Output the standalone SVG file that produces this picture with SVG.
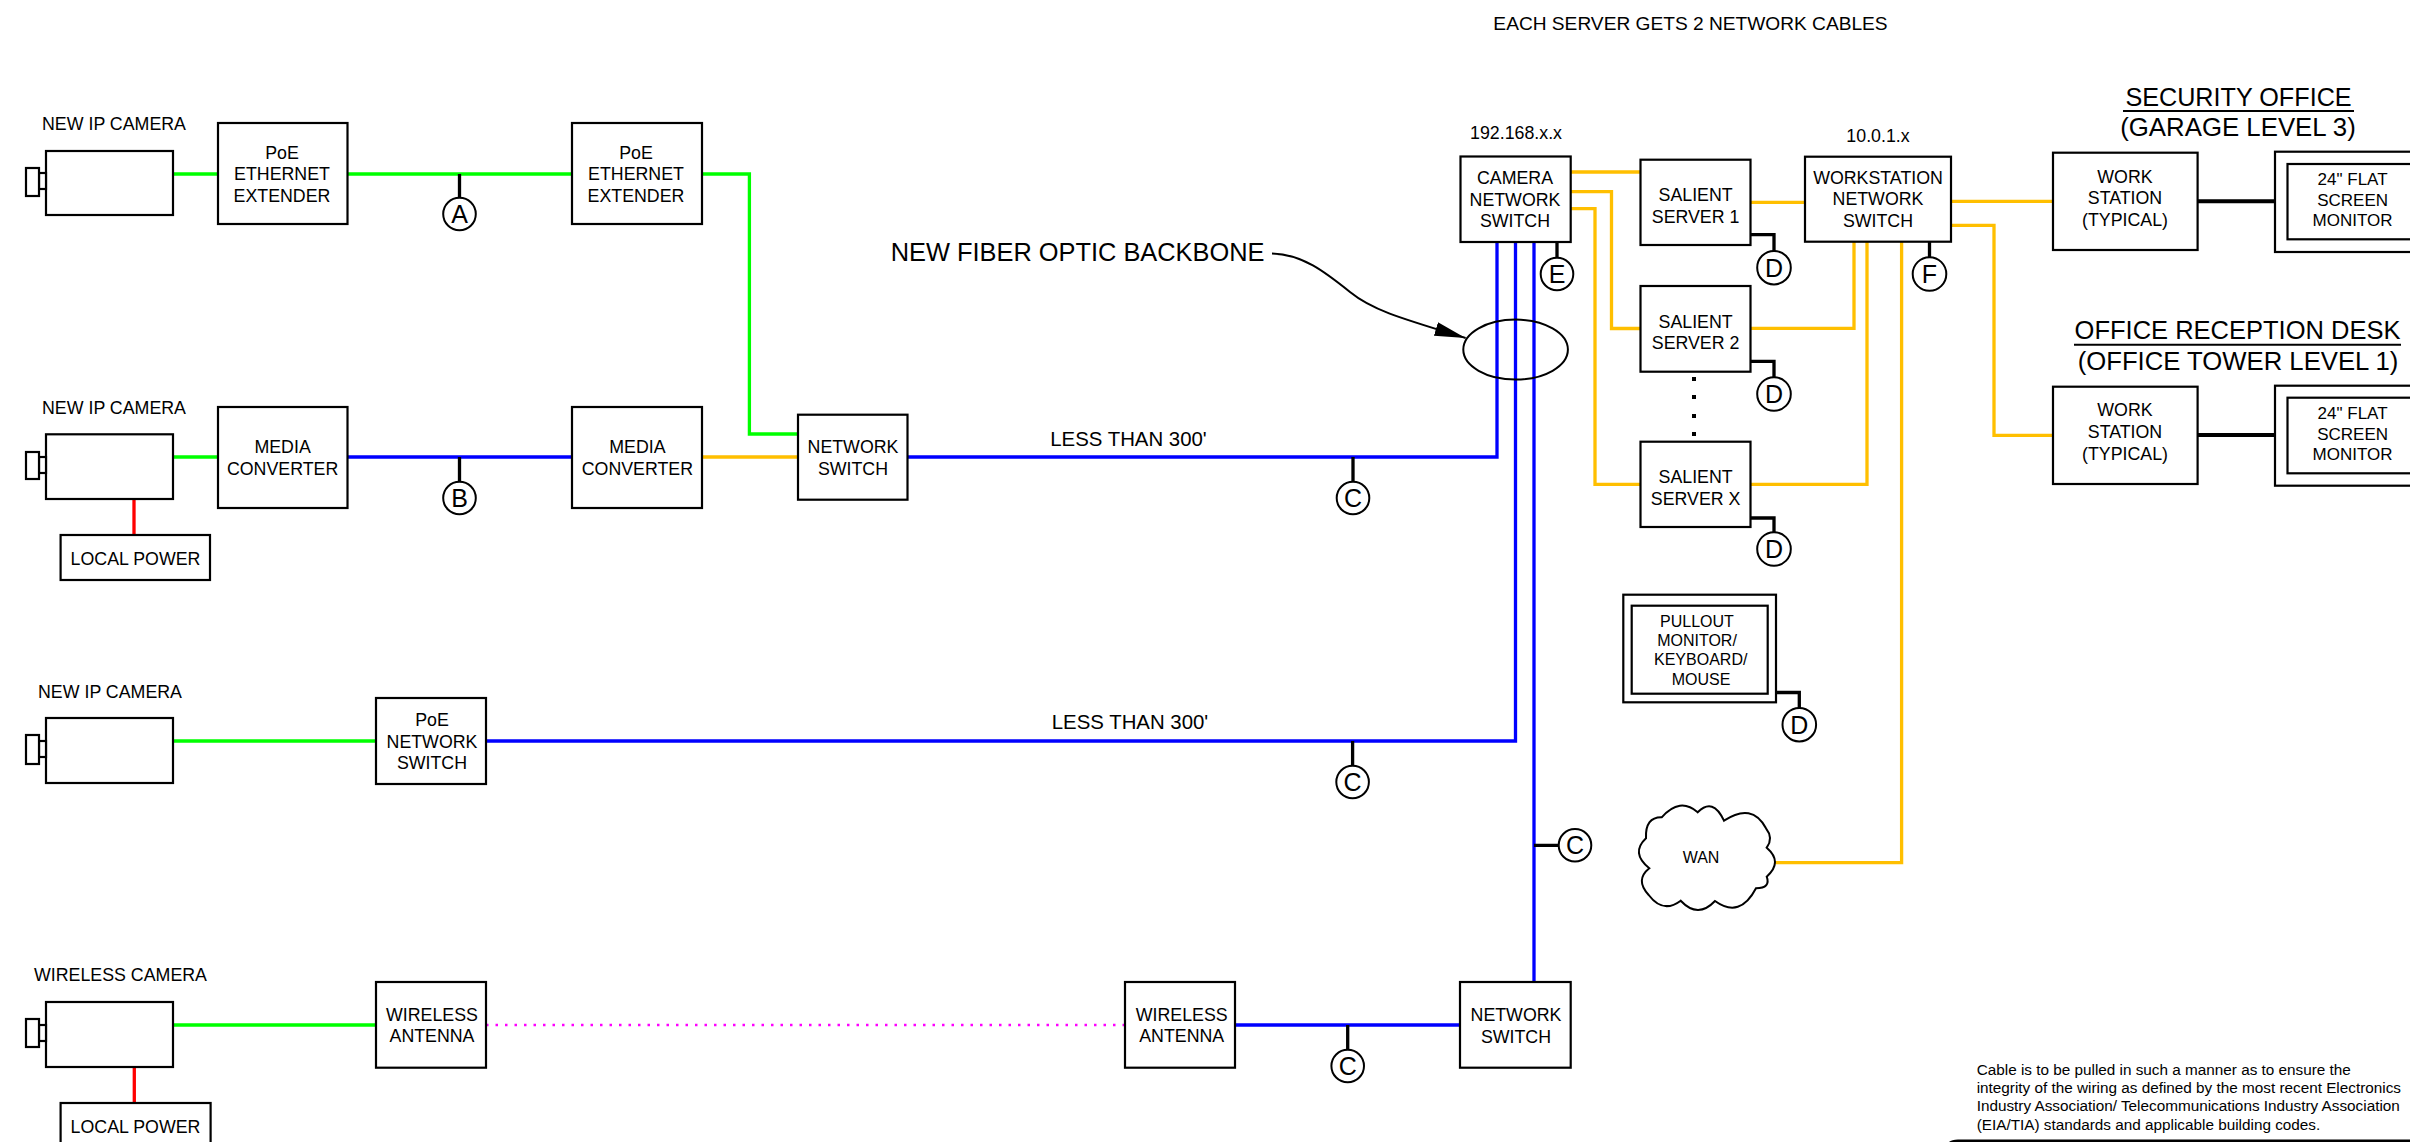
<svg xmlns="http://www.w3.org/2000/svg" width="2410" height="1142" viewBox="0 0 2410 1142">
<style>
text{font-family:"Liberation Sans",Arial,sans-serif;fill:#000;font-size:17.8px;text-anchor:middle}
.b{fill:#fff;stroke:#000;stroke-width:2.2}
.n{fill:none;stroke:#000;stroke-width:2}
.w{fill:none;stroke-width:3.3;stroke-linejoin:miter}
.g{stroke:#00ff00}.u{stroke:#0000ff}.o{stroke:#ffbf00}.r{stroke:#ff0000}
.t{fill:none;stroke:#000;stroke-width:3.3}
.h{fill:none;stroke:#000;stroke-width:4}
.c{fill:#fff;stroke:#000;stroke-width:2}
.l{font-size:25.4px}
.m{font-size:16px}
.s{text-anchor:start;font-size:15.3px}
.k{font-size:25px}
.p{font-size:17px}
.d{fill:#000}
</style>
<defs>
<marker id="ah" markerUnits="userSpaceOnUse" markerWidth="32" markerHeight="16" refX="31" refY="7" orient="auto"><path d="M0 0L31 7L0 14Z" fill="#000"/></marker>
</defs>
<rect width="2410" height="1142" fill="#fff"/>
<g id="connectors">
<path class="w g" d="M173 174H218M347 174H572M702 174H749.4V434H798M173 457H218M173 741H376M173 1025H376"/>
<path class="w u" d="M347 457H572M908 457H1497V242M486 741H1515.5V242M1235 1025H1460M1534 982V242"/>
<path class="w o" d="M702 457H798M1571 172H1641M1571 191.6H1611.5V328.5H1641M1571 208.6H1595V484.3H1641M1750 202.3H1805M1750 328.3H1854V242M1750 484.3H1867V242M1775 862.7H1901.6V242M1951 201.3H2053M1951 225.3H1994V435.3H2053"/>
<path class="w r" d="M134 499V535M134.3 1067V1103"/>
<path d="M486 1025H1126" fill="none" stroke="#ff00ff" stroke-width="2.5" stroke-dasharray="2.5 7"/>
<path class="t" d="M459.5 174V198M459.5 457V482M1353 457V482M1352.6 741V766M1347.7 1025V1050M1534 845.3H1559M1557 242V258M1929.5 242V257M1750 234.7H1774V251M1750 361.3H1774V377M1750 518H1774V532M1776 692.5H1799.3V708"/>
<path class="h" d="M2197.6 201.3H2275M2197.6 435H2275"/>
<path d="M1272 253.4C1302 254 1325 272 1350 292C1372 310 1400 318 1465.6 338" fill="none" stroke="#000" stroke-width="2" marker-end="url(#ah)"/>
</g>
<g id="cam1"><rect class="b" x="46" y="151" width="127" height="64"/><rect class="b" x="39" y="173" width="7" height="16"/><rect class="b" x="26" y="168" width="13" height="28"/><text x="114" y="130">NEW IP CAMERA</text></g>
<g id="cam2"><rect class="b" x="46" y="434.3" width="127" height="64.7"/><rect class="b" x="39" y="457" width="7" height="16"/><rect class="b" x="26" y="452" width="13" height="27"/><text x="114" y="414">NEW IP CAMERA</text></g>
<g id="cam3"><rect class="b" x="46" y="718" width="127" height="65"/><rect class="b" x="39" y="741" width="7" height="16"/><rect class="b" x="26" y="735" width="13" height="29"/><text x="110" y="698">NEW IP CAMERA</text></g>
<g id="cam4"><rect class="b" x="46" y="1002" width="127" height="65"/><rect class="b" x="39" y="1025" width="7" height="16"/><rect class="b" x="26" y="1019" width="13" height="28"/><text x="120.5" y="981.4">WIRELESS CAMERA</text></g>
<g id="power1"><rect class="b" x="60.6" y="535" width="149.4" height="45"/><text x="135.5" y="565.4">LOCAL POWER</text></g>
<g id="power2"><rect class="b" x="60.6" y="1103" width="150" height="45"/><text x="135.5" y="1133">LOCAL POWER</text></g>
<g id="ext1"><rect class="b" x="218" y="123" width="129.5" height="101"/><text x="282" y="159">PoE</text><text x="282" y="180.4">ETHERNET</text><text x="282" y="201.7">EXTENDER</text></g>
<g id="ext2"><rect class="b" x="572" y="123" width="130" height="101"/><text x="636" y="159">PoE</text><text x="636" y="180.4">ETHERNET</text><text x="636" y="201.7">EXTENDER</text></g>
<g id="mc1"><rect class="b" x="218" y="407" width="129.5" height="101"/><text x="282.6" y="453.4">MEDIA</text><text x="282.6" y="475">CONVERTER</text></g>
<g id="mc2"><rect class="b" x="572" y="407" width="130" height="101"/><text x="637.4" y="453.4">MEDIA</text><text x="637.4" y="475">CONVERTER</text></g>
<g id="sw1"><rect class="b" x="798" y="414.7" width="109.5" height="85"/><text x="853" y="453.4">NETWORK</text><text x="853" y="475">SWITCH</text></g>
<g id="poesw"><rect class="b" x="376" y="698" width="110" height="86"/><text x="432" y="726.4">PoE</text><text x="432" y="747.8">NETWORK</text><text x="432" y="769.4">SWITCH</text></g>
<g id="ant1"><rect class="b" x="376" y="982" width="110" height="85.7"/><text x="432" y="1021">WIRELESS</text><text x="432" y="1042.4">ANTENNA</text></g>
<g id="ant2"><rect class="b" x="1125" y="982" width="110" height="85.7"/><text x="1181.7" y="1021">WIRELESS</text><text x="1181.7" y="1042.4">ANTENNA</text></g>
<g id="sw2"><rect class="b" x="1460" y="982" width="110.7" height="85.7"/><text x="1516" y="1021.4">NETWORK</text><text x="1516" y="1042.7">SWITCH</text></g>
<g id="camsw"><rect class="b" x="1460.5" y="156.5" width="110.2" height="85.5"/><text x="1515" y="184.4">CAMERA</text><text x="1515" y="206.4">NETWORK</text><text x="1515" y="227.4">SWITCH</text><text x="1516" y="139.4">192.168.x.x</text></g>
<g id="srv1"><rect class="b" x="1640.5" y="159.7" width="110" height="85.3"/><text x="1695.6" y="201.4">SALIENT</text><text x="1695.6" y="223">SERVER 1</text></g>
<g id="srv2"><rect class="b" x="1640.5" y="286" width="110" height="85.7"/><text x="1695.6" y="328">SALIENT</text><text x="1695.6" y="349.4">SERVER 2</text></g>
<g id="srvx"><rect class="b" x="1640.5" y="441.7" width="110" height="85.3"/><text x="1695.6" y="483.4">SALIENT</text><text x="1695.6" y="504.7">SERVER X</text></g>
<g id="dots"><rect class="d" x="1692" y="377" width="4" height="4"/><rect class="d" x="1692" y="395" width="4" height="4"/><rect class="d" x="1692" y="414" width="4" height="4"/><rect class="d" x="1692" y="432" width="4" height="4"/></g>
<g id="wssw"><rect class="b" x="1805" y="156.7" width="146" height="85"/><text x="1878" y="184">WORKSTATION</text><text x="1878" y="205.4">NETWORK</text><text x="1878" y="227.4">SWITCH</text><text x="1878" y="142.4">10.0.1.x</text></g>
<g id="ws1"><rect class="b" x="2053" y="152.7" width="144.6" height="97.3"/><text x="2125" y="182.7">WORK</text><text x="2125" y="204">STATION</text><text x="2125" y="225.7">(TYPICAL)</text></g>
<g id="ws2"><rect class="b" x="2053" y="386.7" width="144.6" height="97.3"/><text x="2125" y="416.4">WORK</text><text x="2125" y="438">STATION</text><text x="2125" y="459.7">(TYPICAL)</text></g>
<g id="mon1"><rect class="b" x="2275" y="151.7" width="150" height="100.3"/><rect class="b" x="2287.5" y="164" width="140" height="75.3"/><text class="p" x="2352.6" y="185.3">24" FLAT</text><text class="p" x="2352.6" y="206">SCREEN</text><text class="p" x="2352.6" y="226">MONITOR</text></g>
<g id="mon2"><rect class="b" x="2275" y="385.7" width="150" height="100"/><rect class="b" x="2287.5" y="397.7" width="140" height="75.6"/><text class="p" x="2352.6" y="419.3">24" FLAT</text><text class="p" x="2352.6" y="440">SCREEN</text><text class="p" x="2352.6" y="460">MONITOR</text></g>
<g id="pullout"><rect class="b" x="1623.3" y="594.7" width="152.7" height="107.6"/><rect class="b" x="1631.7" y="605.7" width="136" height="88"/><text class="m" x="1697" y="626.7">PULLOUT</text><text class="m" x="1697" y="645.7">MONITOR/</text><text class="m" x="1700.7" y="665">KEYBOARD/</text><text class="m" x="1701" y="684.7">MOUSE</text></g>
<g id="wan"><path class="c" d="M1649.3 868.3Q1630.3 853 1646 838.3Q1645 817 1661.7 817.3Q1680 796.6 1697.7 812.3Q1713 796.9 1724 820.7Q1752 802 1766 828.3Q1773.7 838 1766.7 847.7Q1783.3 862 1766.7 876.7Q1771 888 1756 888.3Q1740 919 1715 901Q1698 919 1680.7 900.7Q1663 914 1648.7 895Q1634.7 880 1649.3 868.3Z"/><text x="1701" y="862.7" style="font-size:16px">WAN</text></g>
<g id="backbone"><ellipse cx="1515.6" cy="349.6" rx="52.3" ry="30" class="n"/><text class="l" x="1077.6" y="260.7">NEW FIBER OPTIC BACKBONE</text></g>
<g id="tagA"><circle class="c" cx="459.5" cy="214" r="16.3"/><text class="k" x="459.5" y="223">A</text></g>
<g id="tagB"><circle class="c" cx="459.5" cy="498" r="16.3"/><text class="k" x="459.5" y="507">B</text></g>
<g id="tagC1"><circle class="c" cx="1353" cy="498" r="16.3"/><text class="k" x="1353" y="507">C</text></g>
<g id="tagC2"><circle class="c" cx="1352.6" cy="782" r="16.3"/><text class="k" x="1352.6" y="791">C</text></g>
<g id="tagC3"><circle class="c" cx="1347.7" cy="1066" r="16.3"/><text class="k" x="1347.7" y="1075">C</text></g>
<g id="tagC4"><circle class="c" cx="1575" cy="845.3" r="16.3"/><text class="k" x="1575" y="854.3">C</text></g>
<g id="tagE"><circle class="c" cx="1557" cy="274" r="16.3"/><text class="k" x="1557" y="283">E</text></g>
<g id="tagF"><circle class="c" cx="1929.5" cy="274" r="16.8"/><text class="k" x="1929.5" y="283">F</text></g>
<g id="tagD1"><circle class="c" cx="1774" cy="267.7" r="16.8"/><text class="k" x="1774" y="276.7">D</text></g>
<g id="tagD2"><circle class="c" cx="1774" cy="394" r="16.8"/><text class="k" x="1774" y="403">D</text></g>
<g id="tagD3"><circle class="c" cx="1774" cy="549" r="16.8"/><text class="k" x="1774" y="558">D</text></g>
<g id="tagD4"><circle class="c" cx="1799.3" cy="724.7" r="16.8"/><text class="k" x="1799.3" y="733.7">D</text></g>
<g id="labels">
<text x="1690.5" y="30" style="font-size:19.15px">EACH SERVER GETS 2 NETWORK CABLES</text>
<text x="1128.5" y="445.7" style="font-size:20.4px">LESS THAN 300'</text>
<text x="1130" y="728.7" style="font-size:20.4px">LESS THAN 300'</text>
<text x="2238.5" y="105.5" style="font-size:25.2px">SECURITY OFFICE</text>
<path class="n" d="M2123 111H2354"/>
<text x="2238" y="136" style="font-size:25.8px">(GARAGE LEVEL 3)</text>
<text x="2237.5" y="339" style="font-size:25.5px">OFFICE RECEPTION DESK</text>
<path class="n" d="M2074 344.7H2401"/>
<text x="2238" y="370" style="font-size:25.7px">(OFFICE TOWER LEVEL 1)</text>
<text class="s" x="1976.7" y="1074.5">Cable is to be pulled in such a manner as to ensure the</text>
<text class="s" x="1976.7" y="1092.8">integrity of the wiring as defined by the most recent Electronics</text>
<text class="s" x="1976.7" y="1111.2">Industry Association/ Telecommunications Industry Association</text>
<text class="s" x="1976.7" y="1129.5">(EIA/TIA) standards and applicable building codes.</text>
<path d="M1948 1146V1148Q1948 1141 1958 1141H2420" fill="none" stroke="#000" stroke-width="3"/>
</g>
</svg>
